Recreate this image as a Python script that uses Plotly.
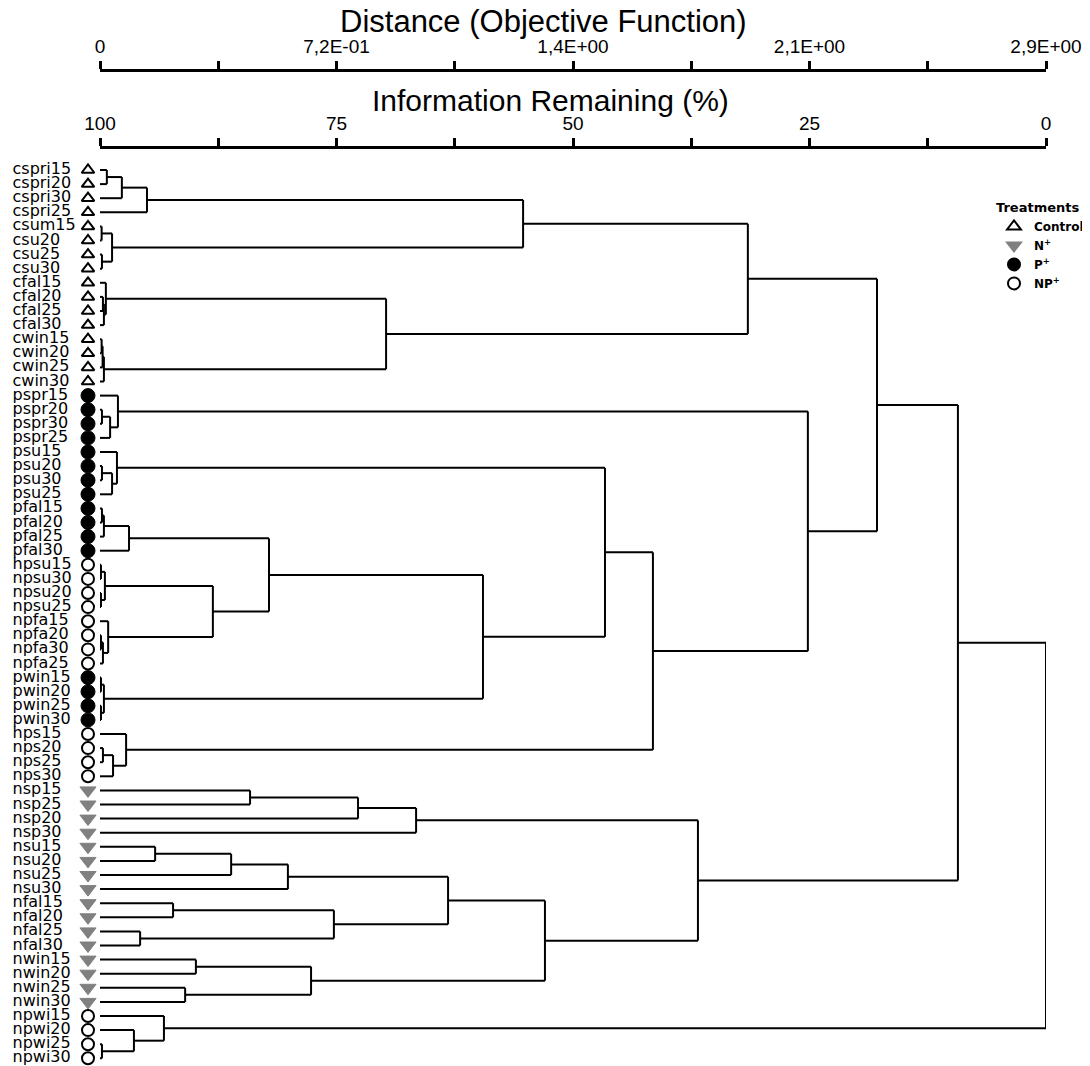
import plotly.graph_objects as go

# ---------------- data ----------------
leaves = ["cspri15", "cspri20", "cspri30", "cspri25", "csum15", "csu20", "csu25", "csu30",
          "cfal15", "cfal20", "cfal25", "cfal30", "cwin15", "cwin20", "cwin25", "cwin30",
          "pspr15", "pspr20", "pspr30", "pspr25", "psu15", "psu20", "psu30", "psu25",
          "pfal15", "pfal20", "pfal25", "pfal30", "hpsu15", "npsu30", "npsu20", "npsu25",
          "npfa15", "npfa20", "npfa30", "npfa25", "pwin15", "pwin20", "pwin25", "pwin30",
          "hps15", "nps20", "nps25", "nps30", "nsp15", "nsp25", "nsp20", "nsp30",
          "nsu15", "nsu20", "nsu25", "nsu30", "nfal15", "nfal20", "nfal25", "nfal30",
          "nwin15", "nwin20", "nwin25", "nwin30", "npwi15", "npwi20", "npwi25", "npwi30"]
treatment = (["Control"] * 16 + ["P"] * 12 + ["NP"] * 8 + ["P"] * 4 + ["NP"] * 4
             + ["N"] * 16 + ["NP"] * 4)

# merges: strings = leaves, ints = index of an earlier merge; heights = distance
merge_left = ["cspri15", 0, 1, "csum15", "csu25", 3, 2, "cfal20", 7, "cfal15",
              "cwin15", 10, 11, 9, 6,
              "pspr20", 15, "pspr15", "psu20", 18, "psu15", "pfal15", 21, 22,
              "hpsu15", "npsu20", 24, "npfa20", 27, "npfa15", 26, 23,
              "pwin15", "pwin25", 32, 31, 20, "nps20", 37, "hps15", 36, 17, 14,
              "nsp15", 43, 44, "nsu15", 46, 47, "nfal15", "nfal25", 49, 48,
              "nwin15", "nwin25", 53, 52, 45, 42, "npwi25", "npwi20", "npwi15", 58]
merge_right = ["cspri20", "cspri30", "cspri25", "csu20", "csu30", 4, 5, "cfal25", "cfal30", 8,
               "cwin20", "cwin25", "cwin30", 12, 13,
               "pspr30", "pspr25", 16, "psu30", "psu25", 19, "pfal20", "pfal25", "pfal30",
               "npsu30", "npsu25", 25, "npfa30", "npfa25", 28, 29, 30,
               "pwin20", "pwin30", 33, 34, 35, "nps25", "nps30", 38, 39, 40, 41,
               "nsp25", "nsp20", "nsp30", "nsu20", "nsu25", "nsu30", "nfal20", "nfal30", 50, 51,
               "nwin20", "nwin30", 54, 55, 56, 57, "npwi30", 59, 60, 61]
merge_height = [0.021, 0.067, 0.144, 0.005, 0.006, 0.037, 1.297, 0.009, 0.012, 0.018,
                0.005, 0.008, 0.012, 0.877, 1.986,
                0.006, 0.031, 0.055, 0.006, 0.037, 0.052, 0.006, 0.012, 0.089,
                0.003, 0.003, 0.015, 0.003, 0.009, 0.025, 0.346, 0.518,
                0.003, 0.003, 0.012, 1.174, 1.548, 0.009, 0.040, 0.080, 1.695, 2.170, 2.382,
                0.460, 0.791, 0.969, 0.169, 0.402, 0.576, 0.224, 0.123, 0.717, 1.067,
                0.294, 0.261, 0.647, 1.364, 1.833, 2.630, 0.006, 0.104, 0.196, 2.900]

dist_ticks = [0, 0.3625, 0.725, 1.0875, 1.45, 1.8125, 2.175, 2.5375, 2.9]
dist_labels = ["0", "", "7,2E-01", "", "1,4E+00", "", "2,1E+00", "", "2,9E+00"]
info_ticks = [100, 87.5, 75, 62.5, 50, 37.5, 25, 12.5, 0]
info_labels = ["100", "", "75", "", "50", "", "25", "", "0"]

groups = ["Control", "N", "P", "NP"]
group_names = ["Control", "N<sup>+</sup>", "P<sup>+</sup>", "NP<sup>+</sup>"]

# ---------------- layout constants (page body has an 8px margin) ----------------
OFF = 8
W, H = 1082, 1058
MR = 44
PLOT_W = W - MR            # plot area spans figure x 0..1038 and y 0..1058
LEFT_PX = 92               # label/marker strip left of the distance axis
ROW0, ROW_STEP = 170 - OFF, 14.1


def sx(px):                 # screen x -> paper x
    return (px - OFF) / PLOT_W


def sy(py):                 # screen y -> paper y
    return (H - (py - OFF)) / H


y_range = [(H - ROW0) / ROW_STEP, -ROW0 / ROW_STEP]

# ---------------- tree geometry ----------------
pos = {name: (i, 0.0) for i, name in enumerate(leaves)}
nodes = []


def get(ref):
    return pos[ref] if isinstance(ref, str) else nodes[ref]


lx, ly = [], []
for a, b, h in zip(merge_left, merge_right, merge_height):
    ya, xa = get(a)
    yb, xb = get(b)
    lx += [xa, h, None, xb, h, None, h, h, None]
    ly += [ya, ya, None, yb, yb, None, ya, yb, None]
    nodes.append(((ya + yb) / 2, h))

fig = go.Figure()
fig.add_trace(go.Scatter(x=lx, y=ly, mode="lines", line=dict(color="black", width=2),
                         hoverinfo="skip", showlegend=False, cliponaxis=False))

# leaf labels in the left strip (x3 in pixel offsets from the distance origin)
fig.add_trace(go.Scatter(x=[-87.5] * len(leaves), y=list(range(len(leaves))), mode="text",
                         text=leaves, textposition="middle right", xaxis="x3",
                         textfont=dict(family="DejaVu Sans", size=16, color="black"),
                         hoverinfo="skip", showlegend=False, cliponaxis=False))

styles = {
    "Control": dict(symbol="triangle-up", size=11, color="white", line=dict(color="black", width=2)),
    "N": dict(symbol="triangle-down", size=14, color="#808080", line=dict(color="#808080", width=1)),
    "P": dict(symbol="circle", size=14, color="black", line=dict(color="black", width=1)),
    "NP": dict(symbol="circle", size=12, color="white", line=dict(color="black", width=2)),
}
for g, nm in zip(groups, group_names):
    ys = [i for i, t in enumerate(treatment) if t == g]
    fig.add_trace(go.Scatter(x=[-12] * len(ys), y=ys, mode="markers", name=nm, xaxis="x3",
                             marker=styles[g], cliponaxis=False, hoverinfo="skip"))

# dummy trace to carry the second axis
fig.add_trace(go.Scatter(x=[100, 0], y=[None, None], xaxis="x2", mode="markers",
                         showlegend=False, hoverinfo="skip"))

axis_common = dict(side="top", anchor="free", showline=True, linewidth=3, linecolor="black",
                   ticks="outside", ticklen=8, tickwidth=3, tickcolor="black",
                   showgrid=False, zeroline=False, ticklabelstandoff=0,
                   domain=[LEFT_PX / PLOT_W, 1], automargin=False,
                   tickfont=dict(family="Liberation Sans", size=19, color="black"))

fig.update_layout(
    width=W, height=H, margin=dict(l=0, r=MR, t=0, b=0, autoexpand=False),
    paper_bgcolor="white", plot_bgcolor="white",
    xaxis=dict(range=[0, 2.9], tickvals=dist_ticks, ticktext=dist_labels,
               position=sy(70), **axis_common),
    xaxis2=dict(range=[100, 0], tickvals=info_ticks, ticktext=info_labels,
                overlaying="x", position=sy(147), **axis_common),
    xaxis3=dict(domain=[0, LEFT_PX / PLOT_W], range=[-LEFT_PX, 0], visible=False, anchor="y"),
    yaxis=dict(range=y_range, visible=False),
    legend=dict(x=sx(994), y=sy(195), xanchor="left", yanchor="top",
                title=dict(text="<b>Treatments</b>", font=dict(family="DejaVu Sans", size=13)),
                font=dict(family="DejaVu Sans", size=12, color="black", weight="bold"),
                itemsizing="constant", tracegroupgap=0, bgcolor="rgba(0,0,0,0)"),
    annotations=[
        dict(text="Distance (Objective Function)", x=sx(543), y=sy(21), xref="paper", yref="paper",
             xanchor="center", yanchor="middle", showarrow=False,
             font=dict(family="Liberation Sans", size=31, color="black")),
        dict(text="Information Remaining (%)", x=sx(550), y=sy(100), xref="paper", yref="paper",
             xanchor="center", yanchor="middle", showarrow=False,
             font=dict(family="Liberation Sans", size=30, color="black")),
    ],
)

fig.write_html("out.html")
